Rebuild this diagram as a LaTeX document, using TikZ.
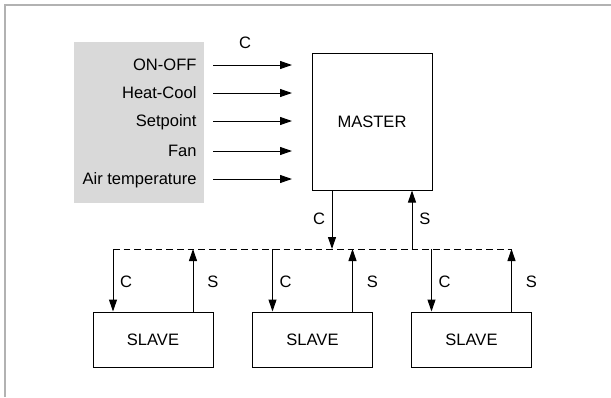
\documentclass[tikz,border=0pt]{standalone}
\usepackage{fontspec}
\setmainfont{Liberation Sans}
\usetikzlibrary{arrows.meta}

\begin{document}
\begin{tikzpicture}[x=0.75pt, y=-0.75pt, font=\fontsize{12.4}{14}\selectfont, line width=0.75pt,
    box/.style={draw, minimum width=90pt, minimum height=41.25pt, inner sep=0pt},
    sig/.style={-{Triangle[length=9pt, width=6pt]}},
    lbl/.style={inner sep=0pt, text height=8.9pt, text depth=0pt},
    bus/.style={dash pattern=on 5pt off 3pt}]
  \useasboundingbox (0,0) rectangle (611,397);
  % --- ramme ---
  \draw[gray!60, line width=1.5pt] (5,397) -- (5,5) -- (611,5);

  % --- inputs ---
  \fill[gray!30] (74,42) rectangle (204,203);
  \node (cin) at (245,43) {C};
  \foreach \name/\txt/\y in {onoff/ON-OFF/65, heat/Heat-Cool/93, setp/Setpoint/121,
                             fan/Fan/151, air/Air temperature/179} {
    \node[lbl, anchor=east] (\name) at (197,\y) {\txt};
    \coordinate (\name-in) at (292,\y);
    \draw[sig] (\name.east) ++(16,0) -- (\name-in);
  }

  % --- master ---
  \node[box, minimum height=102.75pt] (master) at (372,121.5) {MASTER};
  \coordinate (mc) at (332,249);
  \coordinate (ms) at (412,249);
  \draw[sig] (master.south -| mc) -- (mc);
  \draw[sig] (ms) -- (master.south -| ms);
  \node (mclbl) at (319,219) {C};
  \node (mslbl) at (425,219) {S};

  % --- slaves ---
  \foreach \i/\x in {1/153, 2/312.5, 3/471.5} {
    \node[box] (slave\i) at (\x,339.5) {SLAVE};
    \coordinate (c\i) at (\x-40,249);
    \coordinate (s\i) at (\x+40,249);
    \draw[sig] (c\i) -- (c\i |- slave\i.north);
    \draw[sig] (slave\i.north -| s\i) -- (s\i);
    \node (clbl\i) at (\x-27,282) {C};
    \node (slbl\i) at (\x+60,282) {S};
  }
  \draw[bus] (c1) -- (s3);
\end{tikzpicture}
\end{document}
